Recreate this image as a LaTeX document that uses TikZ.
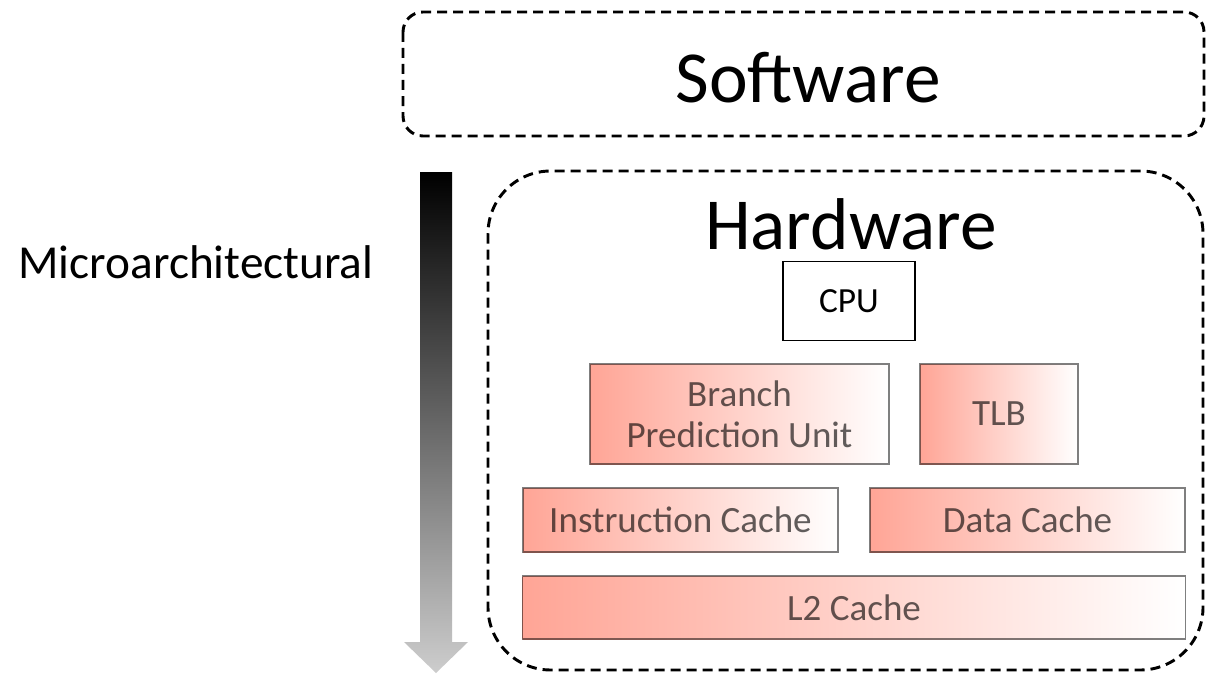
\documentclass[tikz,border=0pt]{standalone}
\usepackage{fontspec}
\setmainfont{Carlito}
\begin{document}
\begin{tikzpicture}[x=0.75pt,y=-0.75pt,
  layer/.style={draw=black, line width=2.2pt, dash pattern=on 7.5pt off 4.5pt},
  unitbox/.style={draw=black, draw opacity=0.5, line width=0.9pt,
    shading=axis, shading angle=90,
    left color={rgb,255:red,255;green,165;blue,150},
    middle color={rgb,255:red,255;green,208;blue,208},
    right color=white,
    text opacity=0.62, font=\fontsize{27.8}{31}\selectfont,
    inner sep=0pt, align=center},
  plainbox/.style={draw=black, line width=0.9pt, fill=white,
    font=\fontsize{26.5}{31}\selectfont, inner sep=0pt}]
\useasboundingbox (0,0) rectangle (1206,674);
\fill[white] (0,0) rectangle (1206,674);

% software and hardware layers
\draw[layer, rounded corners=15pt] (403,12) rectangle (1204,136);
\node[font=\fontsize{55}{66}\selectfont] (sw) at (808,78) {Software};
\draw[layer, rounded corners=47pt] (488,171) rectangle (1203,670);
\node[font=\fontsize{55}{66}\selectfont] (hw) at (851,224) {Hardware};

% depth arrow
\shade[top color=black, bottom color={rgb,255:red,205;green,205;blue,205}]
  (420,172) -- (452,172) -- (452,642) -- (468,642) -- (436,673)
  -- (404,642) -- (420,642) -- cycle;
\node[font=\fontsize{35.5}{42}\selectfont] (micro) at (196,262) {Microarchitectural};

% hardware units
\node[plainbox, minimum width=132*0.75pt, minimum height=79*0.75pt] (cpu) at (849,301) {CPU};
\node[unitbox, minimum width=299*0.75pt, minimum height=100*0.75pt] (bpu) at (739.5,414) {Branch\\Prediction Unit};
\node[unitbox, minimum width=158*0.75pt, minimum height=100*0.75pt] (tlb) at (999,414) {TLB};
\node[unitbox, minimum width=315*0.75pt, minimum height=64*0.75pt] (icache) at (680.5,520) {Instruction Cache};
\node[unitbox, minimum width=315*0.75pt, minimum height=64*0.75pt] (dcache) at (1027.5,520) {Data Cache};
\node[unitbox, minimum width=663*0.75pt, minimum height=63*0.75pt] (l2) at (854,607.5) {L2 Cache};
\end{tikzpicture}
\end{document}
